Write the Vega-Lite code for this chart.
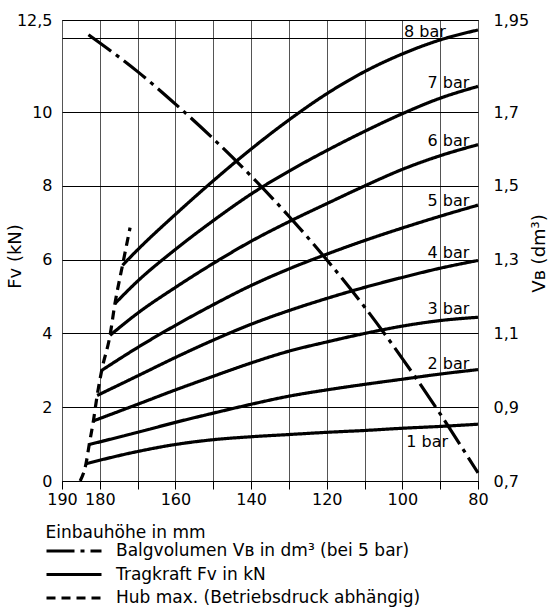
{
  "$schema": "https://vega.github.io/schema/vega-lite/v6.json",
  "width": 416,
  "height": 461,
  "autosize": "none",
  "padding": {"left": 62, "top": 20, "right": 70, "bottom": 129},
  "background": "white",
  "config": {
    "font": "DejaVu Sans",
    "view": {"stroke": "black", "strokeWidth": 1},
    "axis": {"labelFont": "DejaVu Sans", "titleFont": "DejaVu Sans", "labelColor": "black", "titleColor": "black", "titleFontWeight": "normal"},
    "legend": {
      "orient": "none", "legendX": -17, "legendY": 520, "direction": "vertical",
      "symbolType": "stroke", "symbolSize": 3025, "symbolStrokeWidth": 3, "symbolStrokeColor": "black",
      "clipHeight": 22, "rowPadding": 1.5, "labelOffset": 13, "labelFontSize": 17, "labelFont": "DejaVu Sans",
      "labelColor": "black", "labelLimit": 500, "padding": 0
    }
  },
  "datasets": {
    "curves": [
      {"series": "1 bar", "kind": "Tragkraft Fv in kN", "x": 183.65, "fv": 0.47},
      {"series": "1 bar", "kind": "Tragkraft Fv in kN", "x": 170, "fv": 0.8},
      {"series": "1 bar", "kind": "Tragkraft Fv in kN", "x": 160, "fv": 0.99},
      {"series": "1 bar", "kind": "Tragkraft Fv in kN", "x": 150, "fv": 1.12},
      {"series": "1 bar", "kind": "Tragkraft Fv in kN", "x": 140, "fv": 1.2},
      {"series": "1 bar", "kind": "Tragkraft Fv in kN", "x": 130, "fv": 1.26},
      {"series": "1 bar", "kind": "Tragkraft Fv in kN", "x": 120, "fv": 1.32},
      {"series": "1 bar", "kind": "Tragkraft Fv in kN", "x": 110, "fv": 1.37},
      {"series": "1 bar", "kind": "Tragkraft Fv in kN", "x": 100, "fv": 1.43},
      {"series": "1 bar", "kind": "Tragkraft Fv in kN", "x": 90, "fv": 1.48},
      {"series": "1 bar", "kind": "Tragkraft Fv in kN", "x": 80, "fv": 1.54},
      {"series": "2 bar", "kind": "Tragkraft Fv in kN", "x": 182.8, "fv": 0.99},
      {"series": "2 bar", "kind": "Tragkraft Fv in kN", "x": 170, "fv": 1.32},
      {"series": "2 bar", "kind": "Tragkraft Fv in kN", "x": 160, "fv": 1.59},
      {"series": "2 bar", "kind": "Tragkraft Fv in kN", "x": 150, "fv": 1.84},
      {"series": "2 bar", "kind": "Tragkraft Fv in kN", "x": 140, "fv": 2.08},
      {"series": "2 bar", "kind": "Tragkraft Fv in kN", "x": 130, "fv": 2.3},
      {"series": "2 bar", "kind": "Tragkraft Fv in kN", "x": 120, "fv": 2.47},
      {"series": "2 bar", "kind": "Tragkraft Fv in kN", "x": 110, "fv": 2.62},
      {"series": "2 bar", "kind": "Tragkraft Fv in kN", "x": 100, "fv": 2.76},
      {"series": "2 bar", "kind": "Tragkraft Fv in kN", "x": 90, "fv": 2.9},
      {"series": "2 bar", "kind": "Tragkraft Fv in kN", "x": 80, "fv": 3.02},
      {"series": "3 bar", "kind": "Tragkraft Fv in kN", "x": 181.7, "fv": 1.63},
      {"series": "3 bar", "kind": "Tragkraft Fv in kN", "x": 170, "fv": 2.08},
      {"series": "3 bar", "kind": "Tragkraft Fv in kN", "x": 160, "fv": 2.47},
      {"series": "3 bar", "kind": "Tragkraft Fv in kN", "x": 150, "fv": 2.84},
      {"series": "3 bar", "kind": "Tragkraft Fv in kN", "x": 140, "fv": 3.2},
      {"series": "3 bar", "kind": "Tragkraft Fv in kN", "x": 130, "fv": 3.52},
      {"series": "3 bar", "kind": "Tragkraft Fv in kN", "x": 120, "fv": 3.77},
      {"series": "3 bar", "kind": "Tragkraft Fv in kN", "x": 110, "fv": 4.0},
      {"series": "3 bar", "kind": "Tragkraft Fv in kN", "x": 100, "fv": 4.2},
      {"series": "3 bar", "kind": "Tragkraft Fv in kN", "x": 90, "fv": 4.35},
      {"series": "3 bar", "kind": "Tragkraft Fv in kN", "x": 80, "fv": 4.44},
      {"series": "4 bar", "kind": "Tragkraft Fv in kN", "x": 180.7, "fv": 2.32},
      {"series": "4 bar", "kind": "Tragkraft Fv in kN", "x": 170, "fv": 2.85},
      {"series": "4 bar", "kind": "Tragkraft Fv in kN", "x": 160, "fv": 3.35},
      {"series": "4 bar", "kind": "Tragkraft Fv in kN", "x": 150, "fv": 3.82},
      {"series": "4 bar", "kind": "Tragkraft Fv in kN", "x": 140, "fv": 4.25},
      {"series": "4 bar", "kind": "Tragkraft Fv in kN", "x": 130, "fv": 4.62},
      {"series": "4 bar", "kind": "Tragkraft Fv in kN", "x": 120, "fv": 4.95},
      {"series": "4 bar", "kind": "Tragkraft Fv in kN", "x": 110, "fv": 5.25},
      {"series": "4 bar", "kind": "Tragkraft Fv in kN", "x": 100, "fv": 5.52},
      {"series": "4 bar", "kind": "Tragkraft Fv in kN", "x": 90, "fv": 5.77},
      {"series": "4 bar", "kind": "Tragkraft Fv in kN", "x": 80, "fv": 5.98},
      {"series": "5 bar", "kind": "Tragkraft Fv in kN", "x": 179.5, "fv": 3.0},
      {"series": "5 bar", "kind": "Tragkraft Fv in kN", "x": 170, "fv": 3.62},
      {"series": "5 bar", "kind": "Tragkraft Fv in kN", "x": 160, "fv": 4.22},
      {"series": "5 bar", "kind": "Tragkraft Fv in kN", "x": 150, "fv": 4.78},
      {"series": "5 bar", "kind": "Tragkraft Fv in kN", "x": 140, "fv": 5.3},
      {"series": "5 bar", "kind": "Tragkraft Fv in kN", "x": 130, "fv": 5.75},
      {"series": "5 bar", "kind": "Tragkraft Fv in kN", "x": 120, "fv": 6.15},
      {"series": "5 bar", "kind": "Tragkraft Fv in kN", "x": 110, "fv": 6.52},
      {"series": "5 bar", "kind": "Tragkraft Fv in kN", "x": 100, "fv": 6.86},
      {"series": "5 bar", "kind": "Tragkraft Fv in kN", "x": 90, "fv": 7.18},
      {"series": "5 bar", "kind": "Tragkraft Fv in kN", "x": 80, "fv": 7.48},
      {"series": "6 bar", "kind": "Tragkraft Fv in kN", "x": 177.3, "fv": 3.95},
      {"series": "6 bar", "kind": "Tragkraft Fv in kN", "x": 170, "fv": 4.55},
      {"series": "6 bar", "kind": "Tragkraft Fv in kN", "x": 160, "fv": 5.25},
      {"series": "6 bar", "kind": "Tragkraft Fv in kN", "x": 150, "fv": 5.9},
      {"series": "6 bar", "kind": "Tragkraft Fv in kN", "x": 140, "fv": 6.5},
      {"series": "6 bar", "kind": "Tragkraft Fv in kN", "x": 130, "fv": 7.03},
      {"series": "6 bar", "kind": "Tragkraft Fv in kN", "x": 120, "fv": 7.52},
      {"series": "6 bar", "kind": "Tragkraft Fv in kN", "x": 110, "fv": 8.0},
      {"series": "6 bar", "kind": "Tragkraft Fv in kN", "x": 100, "fv": 8.45},
      {"series": "6 bar", "kind": "Tragkraft Fv in kN", "x": 90, "fv": 8.82},
      {"series": "6 bar", "kind": "Tragkraft Fv in kN", "x": 80, "fv": 9.12},
      {"series": "7 bar", "kind": "Tragkraft Fv in kN", "x": 176, "fv": 4.81},
      {"series": "7 bar", "kind": "Tragkraft Fv in kN", "x": 170, "fv": 5.42},
      {"series": "7 bar", "kind": "Tragkraft Fv in kN", "x": 160, "fv": 6.28},
      {"series": "7 bar", "kind": "Tragkraft Fv in kN", "x": 150, "fv": 7.06},
      {"series": "7 bar", "kind": "Tragkraft Fv in kN", "x": 140, "fv": 7.78},
      {"series": "7 bar", "kind": "Tragkraft Fv in kN", "x": 130, "fv": 8.4},
      {"series": "7 bar", "kind": "Tragkraft Fv in kN", "x": 120, "fv": 8.96},
      {"series": "7 bar", "kind": "Tragkraft Fv in kN", "x": 110, "fv": 9.48},
      {"series": "7 bar", "kind": "Tragkraft Fv in kN", "x": 100, "fv": 9.96},
      {"series": "7 bar", "kind": "Tragkraft Fv in kN", "x": 90, "fv": 10.38},
      {"series": "7 bar", "kind": "Tragkraft Fv in kN", "x": 80, "fv": 10.7},
      {"series": "8 bar", "kind": "Tragkraft Fv in kN", "x": 174, "fv": 5.85},
      {"series": "8 bar", "kind": "Tragkraft Fv in kN", "x": 170, "fv": 6.27},
      {"series": "8 bar", "kind": "Tragkraft Fv in kN", "x": 160, "fv": 7.23},
      {"series": "8 bar", "kind": "Tragkraft Fv in kN", "x": 150, "fv": 8.14},
      {"series": "8 bar", "kind": "Tragkraft Fv in kN", "x": 140, "fv": 9.0},
      {"series": "8 bar", "kind": "Tragkraft Fv in kN", "x": 130, "fv": 9.79},
      {"series": "8 bar", "kind": "Tragkraft Fv in kN", "x": 120, "fv": 10.5},
      {"series": "8 bar", "kind": "Tragkraft Fv in kN", "x": 110, "fv": 11.1},
      {"series": "8 bar", "kind": "Tragkraft Fv in kN", "x": 100, "fv": 11.58},
      {"series": "8 bar", "kind": "Tragkraft Fv in kN", "x": 90, "fv": 11.96},
      {"series": "8 bar", "kind": "Tragkraft Fv in kN", "x": 80, "fv": 12.23},
      {"series": "Hub", "kind": "Hub max. (Betriebsdruck abhängig)", "x": 185.2, "fv": 0},
      {"series": "Hub", "kind": "Hub max. (Betriebsdruck abhängig)", "x": 183.65, "fv": 0.47},
      {"series": "Hub", "kind": "Hub max. (Betriebsdruck abhängig)", "x": 182.8, "fv": 0.99},
      {"series": "Hub", "kind": "Hub max. (Betriebsdruck abhängig)", "x": 181.7, "fv": 1.63},
      {"series": "Hub", "kind": "Hub max. (Betriebsdruck abhängig)", "x": 180.7, "fv": 2.32},
      {"series": "Hub", "kind": "Hub max. (Betriebsdruck abhängig)", "x": 179.5, "fv": 3.0},
      {"series": "Hub", "kind": "Hub max. (Betriebsdruck abhängig)", "x": 177.3, "fv": 3.95},
      {"series": "Hub", "kind": "Hub max. (Betriebsdruck abhängig)", "x": 176, "fv": 4.81},
      {"series": "Hub", "kind": "Hub max. (Betriebsdruck abhängig)", "x": 174, "fv": 5.85},
      {"series": "Hub", "kind": "Hub max. (Betriebsdruck abhängig)", "x": 172, "fv": 6.87}
    ],
    "volume": [
      {"kind": "Balgvolumen Vʙ in dm³ (bei 5 bar)", "x": 183, "v": 1.91},
      {"kind": "Balgvolumen Vʙ in dm³ (bei 5 bar)", "x": 170, "v": 1.81},
      {"kind": "Balgvolumen Vʙ in dm³ (bei 5 bar)", "x": 160, "v": 1.722},
      {"kind": "Balgvolumen Vʙ in dm³ (bei 5 bar)", "x": 150, "v": 1.628},
      {"kind": "Balgvolumen Vʙ in dm³ (bei 5 bar)", "x": 140, "v": 1.527},
      {"kind": "Balgvolumen Vʙ in dm³ (bei 5 bar)", "x": 130, "v": 1.418},
      {"kind": "Balgvolumen Vʙ in dm³ (bei 5 bar)", "x": 120, "v": 1.3},
      {"kind": "Balgvolumen Vʙ in dm³ (bei 5 bar)", "x": 110, "v": 1.172},
      {"kind": "Balgvolumen Vʙ in dm³ (bei 5 bar)", "x": 100, "v": 1.032},
      {"kind": "Balgvolumen Vʙ in dm³ (bei 5 bar)", "x": 90, "v": 0.882},
      {"kind": "Balgvolumen Vʙ in dm³ (bei 5 bar)", "x": 80, "v": 0.722}
    ],
    "labels": [
      {"label": "8 bar", "x": 88.5, "fv": 12.03},
      {"label": "7 bar", "x": 82.3, "fv": 10.65},
      {"label": "6 bar", "x": 82.3, "fv": 9.08},
      {"label": "5 bar", "x": 82.3, "fv": 7.45},
      {"label": "4 bar", "x": 82.3, "fv": 6.04},
      {"label": "3 bar", "x": 82.3, "fv": 4.54},
      {"label": "2 bar", "x": 82.3, "fv": 3.05},
      {"label": "1 bar", "x": 87.9, "fv": 0.92}
    ]
  },
  "encoding": {
    "x": {
      "field": "x", "type": "quantitative",
      "scale": {"domain": [80, 190], "reverse": true, "nice": false, "zero": false},
      "axis": {
        "values": [190, 180, 170, 160, 150, 140, 130, 120, 110, 100, 90, 80],
        "labelExpr": "(datum.value % 20 == 0 || datum.value == 190) ? '' + datum.value : ''",
        "grid": true, "gridColor": "#555555", "gridWidth": 1,
        "tickSize": 8, "tickColor": "black", "tickWidth": 1,
        "domain": true, "domainColor": "black", "domainWidth": 1,
        "labelPadding": 2, "labelFontSize": 16, "labelFlush": false, "labelOverlap": false,
        "title": "Einbauhöhe in mm", "titleFontSize": 17,
        "titleX": -17, "titleY": 56, "titleAlign": "left", "titleBaseline": "alphabetic", "titleAngle": 0
      }
    }
  },
  "layer": [
    {
      "encoding": {
        "y": {
          "field": "fv", "type": "quantitative",
          "scale": {"domain": [0, 12.5], "nice": false, "zero": true},
          "axis": {
            "orient": "left",
            "values": [0, 2, 4, 6, 8, 10, 12, 12.5],
            "labelExpr": "datum.value == 12 ? '' : replace('' + datum.value, '.', ',')",
            "grid": true, "gridColor": "black", "gridWidth": 1,
            "ticks": false, "domain": false, "labelPadding": 10, "labelFontSize": 16, "labelFlush": false, "labelOverlap": false,
            "title": "Fv (kN)", "titleFontSize": 18,
            "titleX": -47, "titleY": 236, "titleAngle": -90, "titleAlign": "center", "titleBaseline": "middle"
          }
        }
      },
      "layer": [
        {
          "data": {"name": "curves"},
          "mark": {"type": "line", "color": "black", "strokeWidth": 3.2, "interpolate": "monotone"},
          "encoding": {
            "detail": {"field": "series", "type": "nominal"},
            "strokeDash": {
              "field": "kind", "type": "nominal",
              "scale": {
                "domain": ["Balgvolumen Vʙ in dm³ (bei 5 bar)", "Tragkraft Fv in kN", "Hub max. (Betriebsdruck abhängig)"],
                "range": [[28, 6, 4, 6], [1, 0], [9, 6]]
              },
              "legend": {"title": null}
            }
          }
        },
        {
          "data": {"name": "labels"},
          "mark": {"type": "text", "align": "right", "baseline": "alphabetic", "fontSize": 16, "font": "DejaVu Sans", "color": "black"},
          "encoding": {
            "text": {"field": "label", "type": "nominal"}
          }
        }
      ]
    },
    {
      "data": {"name": "volume"},
      "mark": {"type": "line", "color": "black", "strokeWidth": 3.2, "interpolate": "monotone"},
      "encoding": {
        "y": {
          "field": "v", "type": "quantitative",
          "scale": {"domain": [0.7, 1.95], "nice": false, "zero": false},
          "axis": {
            "orient": "right",
            "values": [0.7, 0.9, 1.1, 1.3, 1.5, 1.7, 1.95],
            "labelExpr": "replace('' + datum.value, '.', ',')",
            "grid": false, "ticks": false, "domain": false, "labelPadding": 15, "labelFontSize": 16, "labelFlush": false, "labelOverlap": false,
            "title": "Vʙ (dm³)", "titleFontSize": 18,
            "titleX": 61, "titleY": 233, "titleAngle": -90, "titleAlign": "center", "titleBaseline": "middle"
          }
        },
        "strokeDash": {
          "field": "kind", "type": "nominal",
          "scale": {
            "domain": ["Balgvolumen Vʙ in dm³ (bei 5 bar)", "Tragkraft Fv in kN", "Hub max. (Betriebsdruck abhängig)"],
            "range": [[28, 6, 4, 6], [1, 0], [9, 6]]
          },
          "legend": {"title": null}
        }
      }
    }
  ],
  "resolve": {"scale": {"y": "independent"}}
}
